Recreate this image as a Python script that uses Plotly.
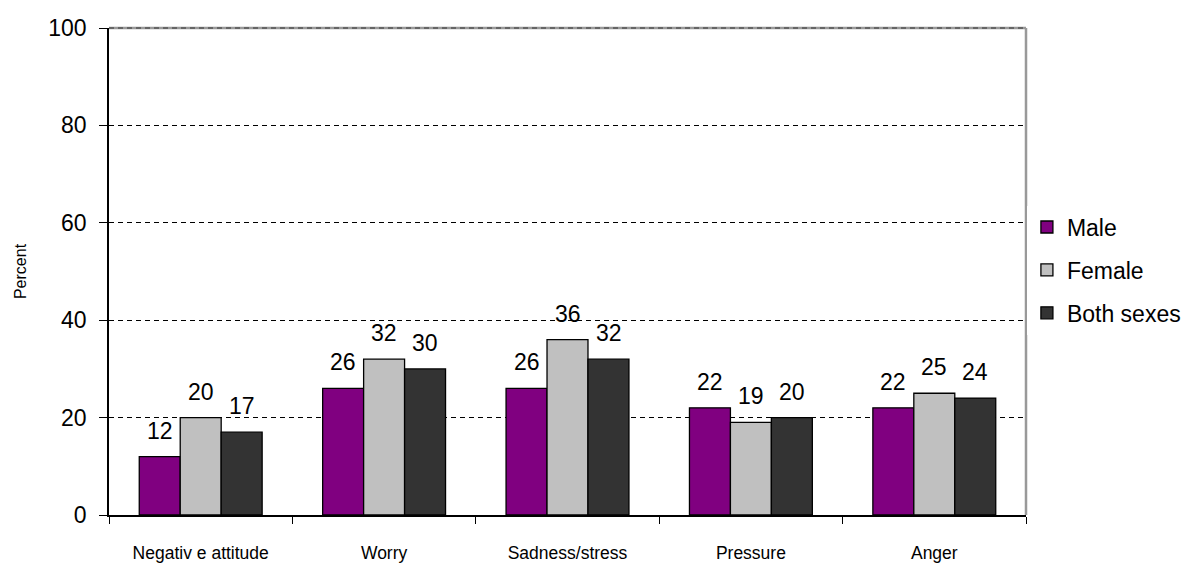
import plotly.graph_objects as go

categories = ["Negativ e attitude", "Worry", "Sadness/stress", "Pressure", "Anger"]
male = [12, 26, 26, 22, 22]
female = [20, 32, 36, 19, 25]
both = [17, 30, 32, 20, 24]
series = [("Male", male, "#800080"), ("Female", female, "#C0C0C0"), ("Both sexes", both, "#333333")]

BAR_PX = 41  # approximate bar width in pixels, used to place value labels

fig = go.Figure()
for i, (name, vals, col) in enumerate(series):
    fig.add_trace(go.Bar(
        x=categories, y=vals, name=name, legendgroup=name,
        marker=dict(color=col, line=dict(color="black", width=1.3)),
    ))
    for c, v in zip(categories, vals):
        fig.add_annotation(
            x=c, y=v, text=str(v), showarrow=False,
            xshift=(i - 1) * BAR_PX, yshift=11, yanchor="bottom",
            font=dict(family="Liberation Sans, Arial", size=23, color="black"),
        )

fig.update_layout(
    width=1192, height=567,
    margin=dict(l=109, r=166, t=28, b=52, autoexpand=False),
    paper_bgcolor="white", plot_bgcolor="white",
    barmode="group", bargap=0.33, bargroupgap=0,
    font=dict(family="Liberation Sans, Arial", color="black"),
    legend=dict(x=1.001, y=0.503, yanchor="middle", xanchor="left",
                font=dict(size=23), tracegroupgap=10, traceorder="grouped"),
    showlegend=True,
)
fig.update_xaxes(
    automargin=False,
    showline=True, linecolor="black", linewidth=1.5,
    ticks="outside", tickson="boundaries", ticklen=7, tickcolor="black",
    tickfont=dict(size=17.5),
    ticklabelstandoff=21, showgrid=False,
)
fig.update_yaxes(
    automargin=False,
    range=[0, 100], tickvals=[0, 20, 40, 60, 80, 100],
    showline=True, linecolor="black", linewidth=1.5,
    ticks="outside", ticklen=8, tickcolor="black",
    tickfont=dict(size=23), ticklabelstandoff=8,
    showgrid=True, gridcolor="black", griddash="5px,4px", gridwidth=1,
    zeroline=False,
    title=dict(text="Percent", font=dict(size=16), standoff=18),
)
fig.add_shape(type="line", xref="paper", yref="paper", x0=0, x1=1, y0=1, y1=1,
              line=dict(color="#999999", width=2.5), layer="above")
fig.add_shape(type="line", xref="paper", yref="paper", x0=1, x1=1, y0=0, y1=1,
              line=dict(color="#999999", width=2.5), layer="above")
fig.add_shape(type="line", xref="paper", yref="paper", x0=0, x1=1, y0=1, y1=1,
              line=dict(color="#333333", width=1, dash="5px,4px"), layer="above")

fig.write_html("out.html")
